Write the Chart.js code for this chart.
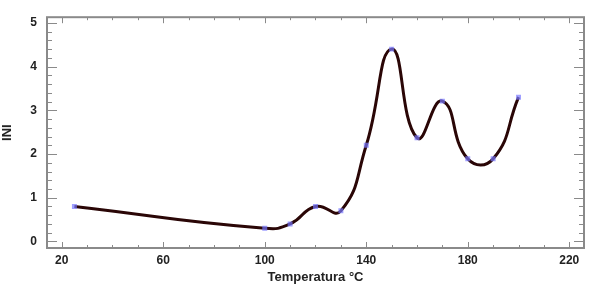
<!DOCTYPE html>
<html>
<head>
<meta charset="utf-8">
<script src="https://cdn.jsdelivr.net/npm/chart.js@4.4.0/dist/chart.umd.min.js"></script>
<style>
    html, body { margin: 0; padding: 0; background: #ffffff; }
    #chart-box { width: 589px; height: 286px; }
</style>
</head>
<body>
<div id="chart-box"><canvas id="ini-chart"></canvas></div>
<script>
// 数据
const temperaturas = [25, 100, 110, 120, 130, 140, 150, 160, 170, 180, 190, 200];
const valoresINI = [0.8, 0.3, 0.4, 0.8, 0.7, 2.2, 4.4, 2.37, 3.21, 1.89, 1.89, 3.3];
const xTickLabels = [20, 60, 100, 140, 180, 220];
const yTickLabels = [0, 1, 2, 3, 4, 5];

/**
 * 画外框和朝内的刻度线
 */
const frameTicks = {
    id: 'frameTicks',
    afterDraw(chart) {
        const ctx = chart.ctx;
        const area = chart.chartArea;
        const xs = chart.scales.x;
        const ys = chart.scales.y;
        ctx.save();
        ctx.strokeStyle = '#8a8a8a';
        ctx.lineWidth = 2;
        ctx.strokeRect(area.left, area.top, area.right - area.left, area.bottom - area.top);

        ctx.lineWidth = 1;
        ctx.beginPath();
        // x 轴刻度，每 10 一个
        for (let v = 20; v <= 220; v += 10) {
            const px = Math.round(xs.getPixelForValue(v)) + 0.5;
            const len = (v - 20) % 40 === 0 ? 6 : 3;
            ctx.moveTo(px, area.bottom);
            ctx.lineTo(px, area.bottom - len);
            ctx.moveTo(px, area.top);
            ctx.lineTo(px, area.top + len);
        }
        // y 轴刻度，每 0.2 一个
        for (let i = 0; i <= 25; i++) {
            const py = Math.round(ys.getPixelForValue(i * 0.2)) + 0.5;
            const len = i % 5 === 0 ? 10 : 5;
            ctx.moveTo(area.left, py);
            ctx.lineTo(area.left + len, py);
            ctx.moveTo(area.right, py);
            ctx.lineTo(area.right - len, py);
        }
        ctx.stroke();
        ctx.restore();
    }
};

document.addEventListener('DOMContentLoaded', function() {
    createIniChart();
});

function createIniChart() {
    const canvas = document.getElementById('ini-chart');
    if (!canvas) return;

    const puntos = temperaturas.map((t, i) => ({ x: t, y: valoresINI[i] }));
    const font = { family: 'Liberation Sans, Arial, sans-serif', size: 12, weight: 'bold' };
    const titleFont = { family: 'Liberation Sans, Arial, sans-serif', size: 13, weight: 'bold' };

    new Chart(canvas, {
        type: 'scatter',
        data: {
            datasets: [{
                label: 'INI',
                data: puntos,
                showLine: true,
                tension: 0.5,
                borderColor: '#2a0606',
                borderWidth: 3,
                pointStyle: 'rect',
                pointRadius: 3.5,
                pointBackgroundColor: 'rgba(120, 120, 255, 0.7)',
                pointBorderWidth: 0
            }]
        },
        options: {
            responsive: true,
            maintainAspectRatio: false,
            animation: false,
            layout: { padding: { left: 0, right: 5, top: 5, bottom: 0 } },
            plugins: {
                legend: { display: false },
                tooltip: { enabled: false }
            },
            scales: {
                x: {
                    type: 'linear',
                    min: 14.2,
                    max: 225.8,
                    grid: { display: false, drawTicks: false },
                    border: { display: false },
                    afterBuildTicks: function(scale) {
                        scale.ticks = xTickLabels.map(v => ({ value: v }));
                    },
                    afterFit: function(scale) { scale.height = 38; },
                    ticks: {
                        color: '#222222',
                        font: font,
                        padding: 5,
                        maxRotation: 0
                    },
                    title: {
                        display: true,
                        text: 'Temperatura °C',
                        color: '#222222',
                        font: titleFont,
                        padding: { top: 0, bottom: 1 }
                    }
                },
                y: {
                    min: -0.15,
                    max: 5.13,
                    grid: { display: false, drawTicks: false },
                    border: { display: false },
                    afterBuildTicks: function(scale) {
                        scale.ticks = yTickLabels.map(v => ({ value: v }));
                    },
                    afterFit: function(scale) { scale.width = 47; },
                    ticks: {
                        color: '#222222',
                        font: font,
                        padding: 10
                    },
                    title: {
                        display: true,
                        text: 'INI',
                        color: '#222222',
                        font: titleFont,
                        padding: { top: 0, bottom: 0 }
                    }
                }
            }
        },
        plugins: [frameTicks]
    });
}
</script>
</body>
</html>
